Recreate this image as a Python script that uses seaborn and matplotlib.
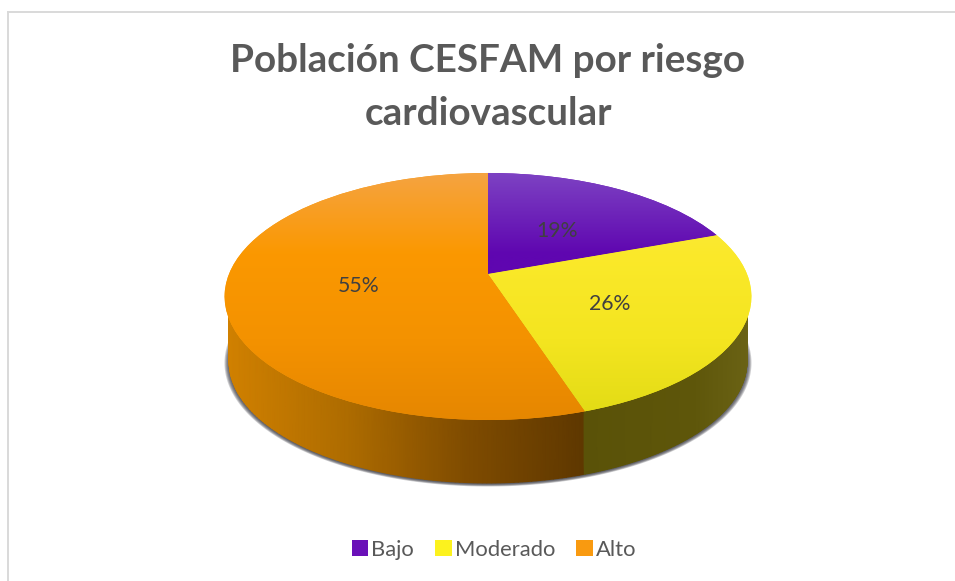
# Poblacion CESFAM por riesgo cardiovascular -- tilted 3D style pie

import numpy as np
import matplotlib
matplotlib.use("Agg")
import matplotlib.pyplot as plt
import matplotlib.transforms as mtransforms
import seaborn as sns

# Data #######################################################################

categories = ["Bajo", "Moderado", "Alto"]
percent = [19.4, 25.6, 55.0]
title = "Población CESFAM por riesgo\ncardiovascular"

legend_colors = ["#6a10b8", "#fcf21e", "#f99a10"]
top_shades = [
    ["#7f46c4", "#5f06b0", "#5f06b0", "#5c05ac"],
    ["#f6e84a", "#fbe92a", "#f4e520", "#e0da14"],
    ["#f5a445", "#fb9800", "#f49200", "#e58600"],
]
side_shades = [
    ["#3c0570", "#3c0570"],
    ["#5a5208", "#5c5409", "#5e560a", "#6a6214"],
    ["#d08000", "#ae6c00", "#804c00", "#5f3800"],
]

# Style ######################################################################

sns.set_theme(style="white")
plt.rcParams["font.family"] = ["Lato", "DejaVu Sans"]


# Tilted disc: unit circle -> reference pixels, far edge foreshortened
class Tilt(mtransforms.Transform):
    input_dims = 2
    output_dims = 2
    has_inverse = False

    def __init__(self, scale=1.0, drop=0.0):
        super().__init__()
        self.scale = scale
        self.drop = drop

    def transform_non_affine(self, values):
        values = np.asarray(values, dtype=float)
        w = 1 + 0.182 * values[:, 1]
        x = 488 + self.scale * 259 * values[:, 0] / w
        y = 274 + self.drop - self.scale * 119.4 * values[:, 1] / w
        return np.column_stack([x, y])


top = Tilt()
bottom = Tilt(scale=0.983, drop=65.5)

# Figure #####################################################################

fig = plt.figure(figsize=(9.55, 5.81), dpi=100, facecolor="white")
ax = fig.add_axes([8 / 955, 0, 947 / 955, 569 / 581])

wedges, _, autotexts = ax.pie(
    percent, autopct="%.0f%%", pctdistance=0.5, startangle=90, counterclock=False,
    colors=legend_colors, frame=True, wedgeprops={"linewidth": 0, "edgecolor": "none"},
    textprops={"fontsize": 15.3, "color": "#404040"},
)

# top face: vertical shading clipped to each wedge
label_shift = mtransforms.Affine2D().translate(0, 3)
for wedge, text, shades in zip(wedges, autotexts, top_shades):
    wedge.set_transform(top + ax.transData)
    wedge.set_zorder(3)
    text.set_transform(top + label_shift + ax.transData)
    text.set_zorder(6)
    im = ax.imshow(
        np.linspace(0, 1, 256)[:, None],
        cmap=sns.blend_palette(shades, as_cmap=True), vmin=0, vmax=1,
        extent=(220, 756, 425, 168), aspect="auto", zorder=4,
    )
    im.set_clip_path(wedge)

# side wall: one band per slice, shaded left to right
edges = np.cumsum([0] + percent) / 100
for start, end, shades in zip(edges[:-1], edges[1:], side_shades):
    phi = 2 * np.pi * np.linspace(start, end, 240)
    rim = np.column_stack([np.sin(phi), np.cos(phi)])
    upper = top.transform(rim * 0.985)
    lower = bottom.transform(rim)
    xs = np.vstack([upper[:, 0], lower[:, 0]])
    ys = np.vstack([upper[:, 1], lower[:, 1]])
    ax.pcolormesh(
        xs, ys, xs, shading="gouraud", zorder=2,
        cmap=sns.blend_palette(shades, as_cmap=True),
        vmin=xs.min(), vmax=xs.max(),
    )

# soft shadow under the disc
phi = np.linspace(0, 2 * np.pi, 361)
rim = np.column_stack([np.sin(phi), np.cos(phi)])
for grow in np.linspace(4.5, 0, 6):
    ring = Tilt(scale=0.983 + grow / 259, drop=65.5 + 1.0)
    outline = ring.transform(rim)
    ax.fill(outline[:, 0], outline[:, 1], color="#383840", alpha=0.24, lw=0, zorder=1)

ax.set_aspect("auto")
ax.set_xlim(8, 955)
ax.set_ylim(581, 12)
ax.set_xticks([])
ax.set_yticks([])
for side in ["right", "bottom"]:
    ax.spines[side].set_visible(False)
for side in ["left", "top"]:
    ax.spines[side].set_color("#d9d9d9")
    ax.spines[side].set_linewidth(1.4)

ax.text(488, 87, title, ha="center", va="center", fontsize=27.8, fontweight="bold",
        color="#595959", linespacing=1.65)

ax.legend(
    wedges, categories, ncol=3, frameon=False, fontsize=15.8, labelcolor="#595959",
    loc="center", bbox_to_anchor=(494, 550), bbox_transform=ax.transData,
    handlelength=0.76, handleheight=0.76, handletextpad=0.14, columnspacing=0.95,
)

fig.savefig("out.png", dpi=100)
